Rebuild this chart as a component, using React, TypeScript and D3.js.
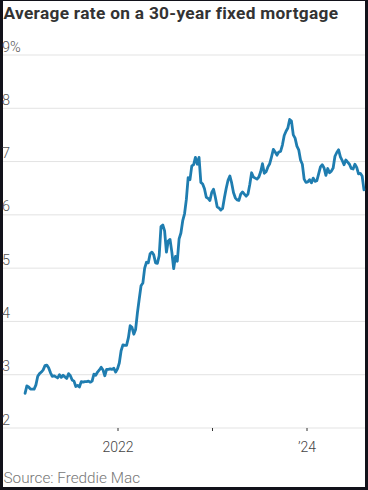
import React from "react";
import * as d3 from "d3";

const W = 368;
const H = 490;

const startDate = "2021-01-07";
const rates2021 = [2.65, 2.79, 2.77, 2.73, 2.73, 2.73, 2.81, 2.97, 3.02, 3.05, 3.09, 3.17, 3.18, 3.13, 3.04, 2.97, 2.98, 2.96, 2.94, 3.0, 2.95, 2.99, 2.96, 2.93, 3.02, 2.98, 2.9, 2.88, 2.78, 2.8, 2.77, 2.87, 2.86, 2.87, 2.87, 2.88, 2.86, 2.88, 3.01, 2.99, 3.05, 3.09, 3.14, 3.09, 2.98, 3.1, 3.1, 3.11, 3.1, 3.12, 3.05, 3.11];
const rates2022 = [3.22, 3.45, 3.56, 3.55, 3.55, 3.69, 3.92, 3.89, 3.76, 3.85, 4.16, 4.42, 4.67, 4.72, 5.0, 5.11, 5.1, 5.27, 5.3, 5.25, 5.1, 5.09, 5.23, 5.78, 5.81, 5.7, 5.3, 5.51, 5.54, 5.3, 4.99, 5.22, 5.13, 5.55, 5.66, 5.89, 6.02, 6.29, 6.7, 6.66, 6.92, 6.94, 7.08, 6.95, 7.08, 6.61, 6.58, 6.49, 6.33, 6.31, 6.27, 6.42];
const rates2023 = [6.48, 6.33, 6.15, 6.13, 6.09, 6.12, 6.32, 6.5, 6.65, 6.73, 6.6, 6.42, 6.32, 6.28, 6.27, 6.39, 6.43, 6.39, 6.35, 6.39, 6.57, 6.79, 6.71, 6.69, 6.67, 6.71, 6.81, 6.96, 6.78, 6.81, 6.9, 6.96, 7.09, 7.23, 7.18, 7.12, 7.18, 7.19, 7.31, 7.49, 7.57, 7.63, 7.79, 7.76, 7.5, 7.44, 7.29, 7.22, 7.03, 6.95, 6.67, 6.61];
const rates2024 = [6.62, 6.66, 6.6, 6.69, 6.63, 6.64, 6.77, 6.9, 6.94, 6.88, 6.74, 6.87, 6.79, 6.82, 6.88, 7.1, 7.17, 7.22, 7.09, 7.02, 6.94, 7.03, 6.99, 6.95, 6.87, 6.86, 6.95, 6.89, 6.77, 6.78, 6.73, 6.47];

const yTicks = [2, 3, 4, 5, 6, 7, 8, 9];
const xTickDates = ["2022-01-01", "2023-01-01", "2024-01-01"];
const xTickLabels = ["2022", "", "\u201924"];

const title = "Average rate on a 30-year fixed mortgage";
const source = "Source: Freddie Mac";

export default function App() {
  const allRates = [...rates2021, ...rates2022, ...rates2023, ...rates2024];
  const t0 = d3.timeParse("%Y-%m-%d")(startDate) as Date;
  const data = allRates.map((v, i) => ({ date: d3.timeDay.offset(t0, i * 7), value: v }));

  const x = d3
    .scaleTime()
    .domain([new Date(2021, 0, 1), new Date(2024, 0, 1)])
    .range([23.5, 307]);
  const y = d3.scaleLinear().domain([2, 9]).range([428, 55]);

  const line = d3
    .line<{ date: Date; value: number }>()
    .x((d) => x(d.date))
    .y((d) => y(d.value))
    .curve(d3.curveLinear);

  const font = "Roboto, 'Noto Sans', sans-serif";

  return (
    <>
      <style>{`body{margin:0}`}</style>
      <svg width={W} height={H} style={{ display: "block" }}>
        <rect x={0} y={0} width={W} height={H} fill="#12121a" />
        <rect x={3} y={1} width={362} height={486} fill="#ffffff" />
        <text x={3.5} y={19} fontFamily={font} fontWeight={700} fontSize={17.3} letterSpacing={0.3} fill="#333333">
          {title}
        </text>
        {yTicks.map((t) => (
          <g key={t}>
            <line x1={3} x2={365} y1={y(t)} y2={y(t)} stroke="#e3e3e3" strokeWidth={1} />
            <text x={2} y={y(t) - 3.5} fontFamily={font} fontWeight={300} fontSize={14.5} fill="#555">
              {t === 9 ? "9%" : String(t)}
            </text>
          </g>
        ))}
        {xTickDates.map((d, i) => {
          const xx = x(d3.timeParse("%Y-%m-%d")(d) as Date);
          return (
            <g key={d}>
              <line x1={xx} x2={xx} y1={y(2)} y2={y(2) + 3} stroke="#333" strokeWidth={1} />
              {xTickLabels[i] && (
                <text x={xx} y={452} textAnchor="middle" fontFamily={font} fontWeight={300} fontSize={14} fill="#444">
                  {xTickLabels[i]}
                </text>
              )}
            </g>
          );
        })}
        <path d={line(data) || ""} fill="none" stroke="#1f7db0" strokeWidth={2.8} strokeLinejoin="round" strokeLinecap="round" />
        <text x={3.5} y={483} fontFamily={font} fontWeight={300} fontSize={15.3} fill="#777">
          {source}
        </text>
      </svg>
    </>
  );
}
